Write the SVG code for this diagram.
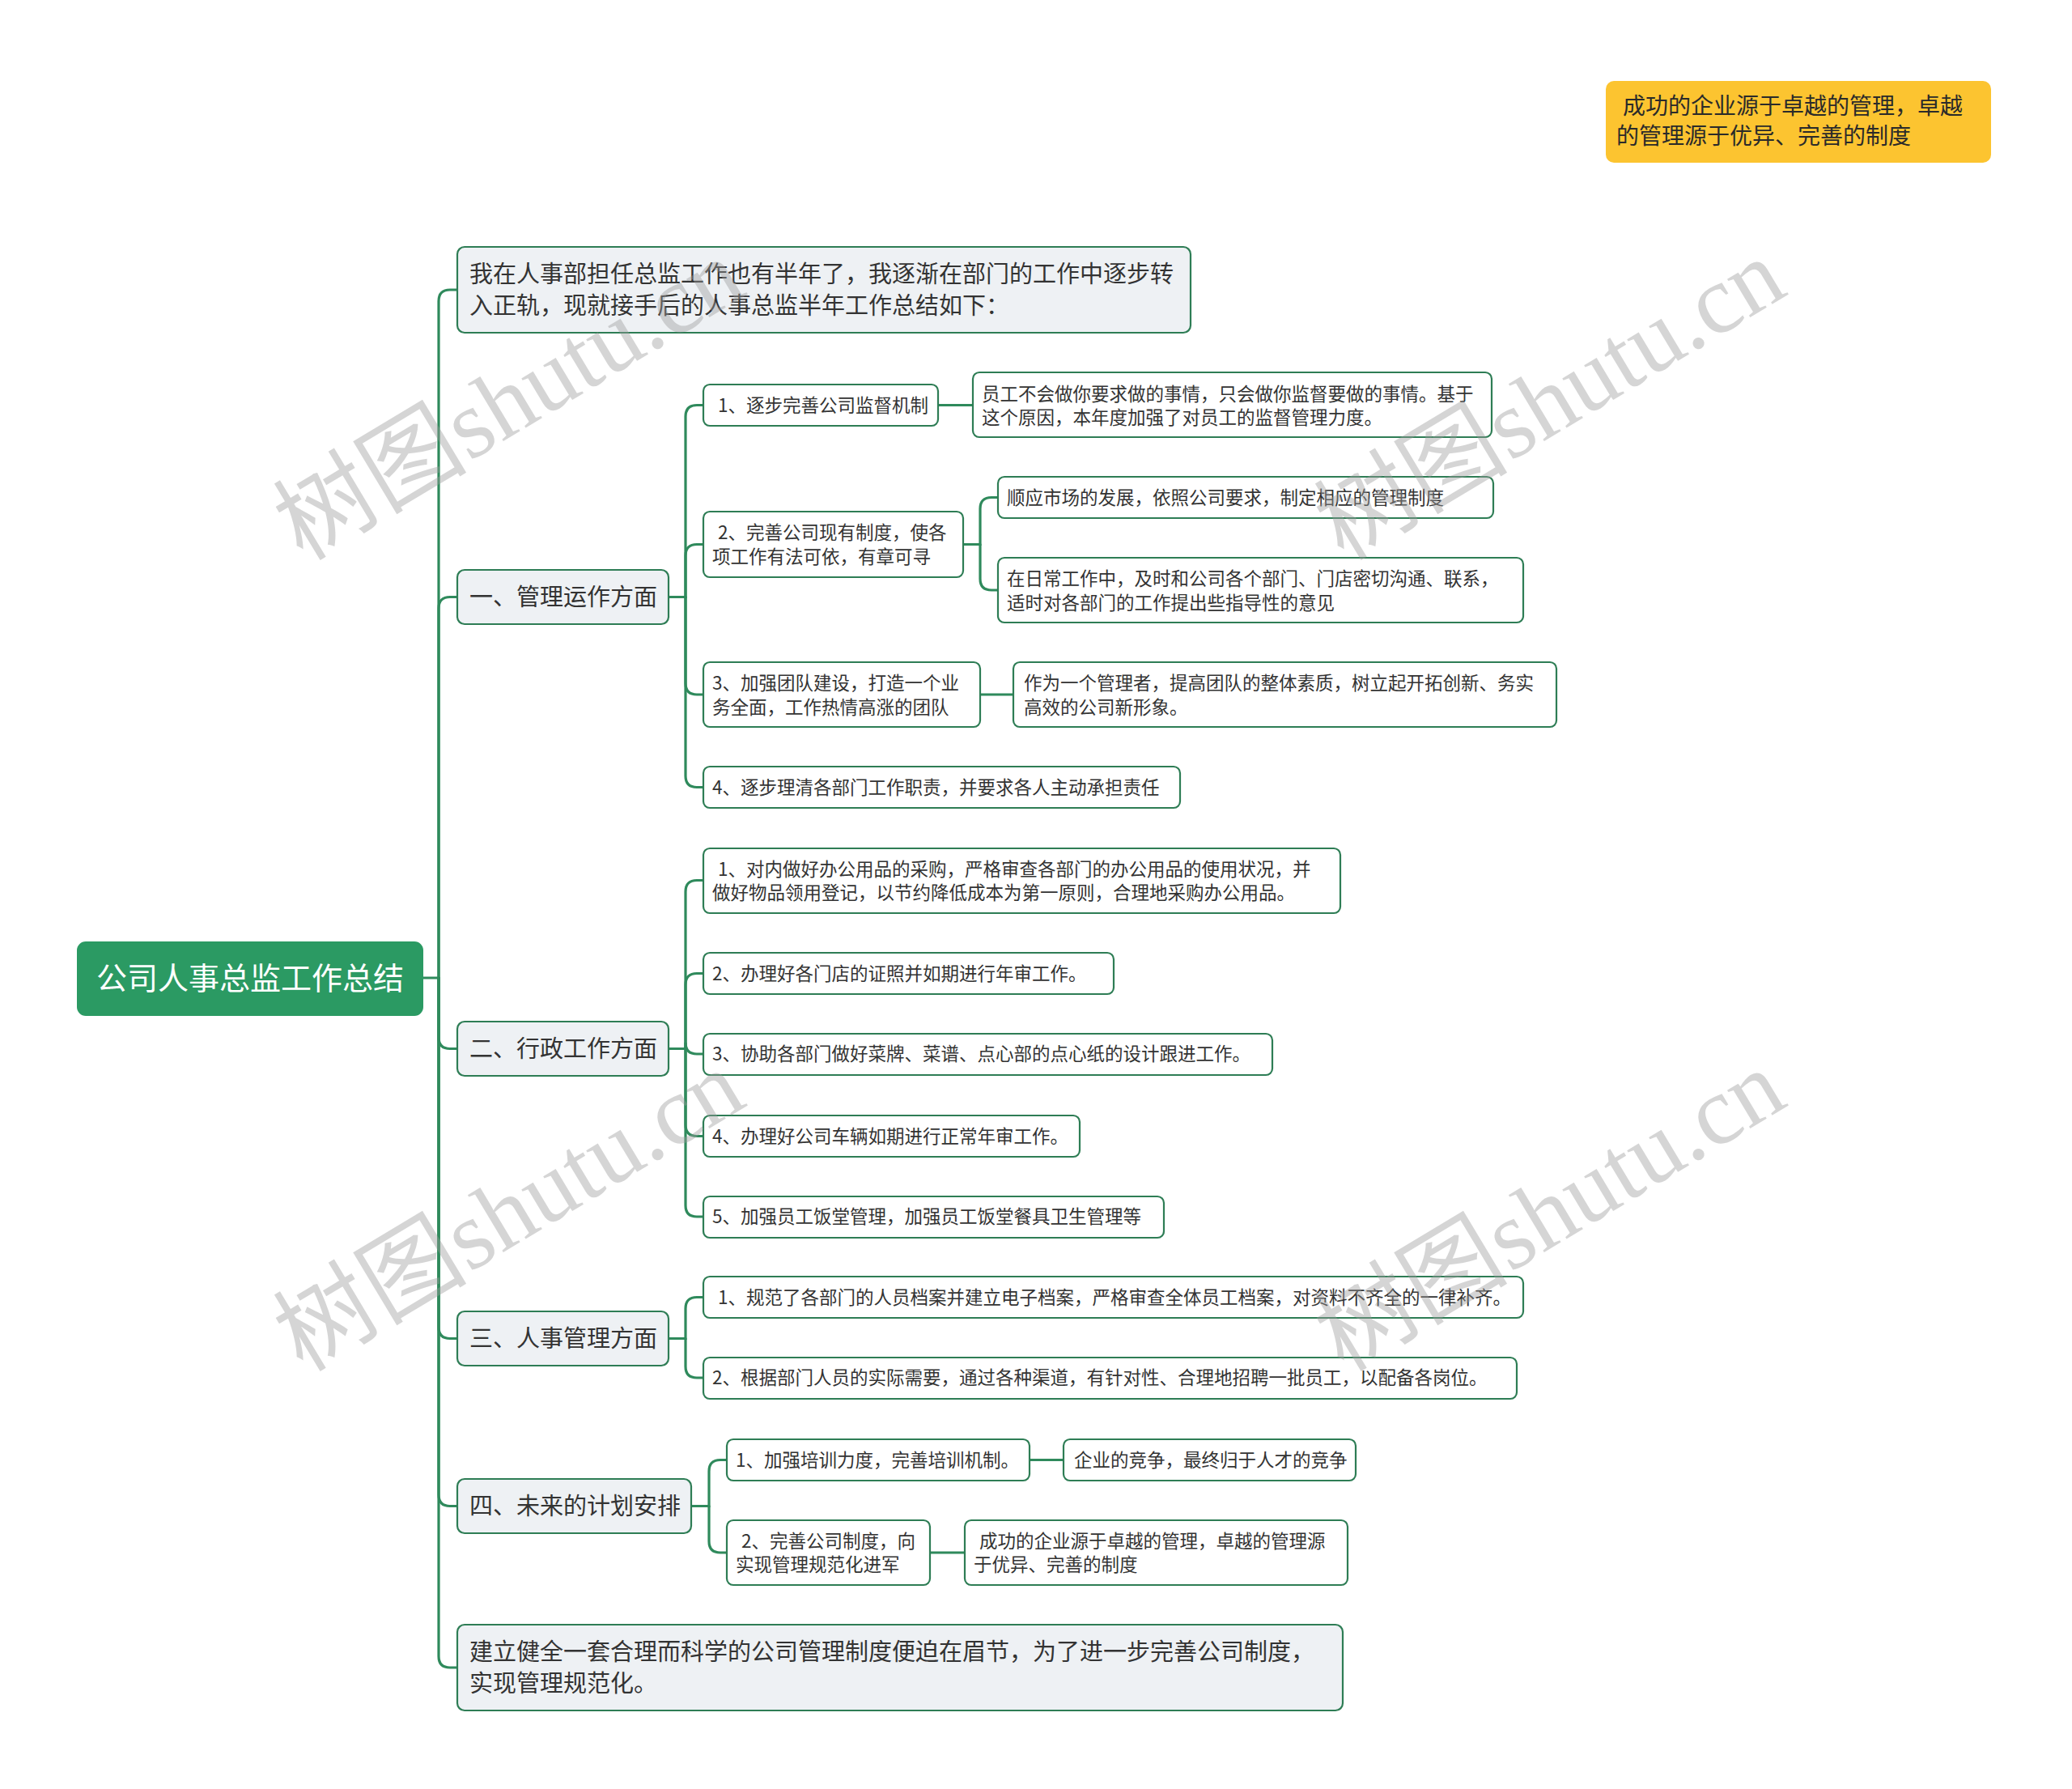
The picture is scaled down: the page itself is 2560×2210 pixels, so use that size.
<svg xmlns="http://www.w3.org/2000/svg" width="2560" height="2210" viewBox="0 0 2560 2210">
<style>
.t{font-family:"Noto Sans CJK SC","Microsoft YaHei",sans-serif;fill:#333333}
.root rect{fill:#2b9a63;stroke:#2b9a63;stroke-width:2}
.root text{fill:#ffffff;font-size:38px}
.l1 rect{fill:#eef1f4;stroke:#2e7d55;stroke-width:2.2}
.l1 text{font-size:29px}
.l2 rect{fill:#ffffff;stroke:#2e7d55;stroke-width:2.2}
.l2 text{font-size:22.5px}
.note rect{fill:#fcc430}
.note text{font-size:28px;fill:#2a2a2a}
.conn path{fill:none;stroke:#2f8a5c;stroke-width:3.2;stroke-linecap:round}
.wm{font-family:"Liberation Serif","Noto Sans CJK SC",serif;font-size:120px;fill:#9a9a9a;fill-opacity:0.42}
</style>
<rect x="0" y="0" width="2560" height="2210" fill="#ffffff"/>

<g class="conn">
  <!-- root to level 1 -->
  <path d="M522 1208 H542 V372 Q542 358 556 358 H565"/>
  <path d="M542 1208 V751.5 Q542 737.5 556 737.5 H565"/>
  <path d="M542 1208 V1281.5 Q542 1295.5 556 1295.5 H565"/>
  <path d="M542 1208 V1639.5 Q542 1653.5 556 1653.5 H565"/>
  <path d="M542 1208 V1846.5 Q542 1860.5 556 1860.5 H565"/>
  <path d="M542 1208 V2046 Q542 2060 556 2060 H565"/>
  <!-- 一 -->
  <path d="M826 737.5 H847 V514.5 Q847 500.5 861 500.5 H869"/>
  <path d="M847 737.5 V686.5 Q847 672.5 861 672.5 H869"/>
  <path d="M847 737.5 V844 Q847 858 861 858 H869"/>
  <path d="M847 737.5 V958.5 Q847 972.5 861 972.5 H869"/>
  <path d="M1159 500.5 H1202"/>
  <path d="M1190 672.5 H1211 V628.5 Q1211 614.5 1225 614.5 H1233"/>
  <path d="M1211 672.5 V715 Q1211 729 1225 729 H1233"/>
  <path d="M1211 858 H1252"/>
  <!-- 二 -->
  <path d="M826 1295.5 H847 V1101.5 Q847 1087.5 861 1087.5 H869"/>
  <path d="M847 1295.5 V1216.5 Q847 1202.5 861 1202.5 H869"/>
  <path d="M847 1295.5 V1288 Q847 1302 861 1302 H869"/>
  <path d="M847 1295.5 V1389.5 Q847 1403.5 861 1403.5 H869"/>
  <path d="M847 1295.5 V1489 Q847 1503 861 1503 H869"/>
  <!-- 三 -->
  <path d="M826 1653.5 H847 V1616.5 Q847 1602.5 861 1602.5 H869"/>
  <path d="M847 1653.5 V1688 Q847 1702 861 1702 H869"/>
  <!-- 四 -->
  <path d="M854 1860.5 H876 V1817.5 Q876 1803.5 890 1803.5 H898"/>
  <path d="M876 1860.5 V1904 Q876 1918 890 1918 H898"/>
  <path d="M1272 1803.5 H1314"/>
  <path d="M1149 1918 H1192"/>
</g>

<g id="root" class="root">
  <rect x="96" y="1164" width="426" height="90" rx="10"/>
  <text class="t" x="309" y="1222" text-anchor="middle">公司人事总监工作总结</text>
</g>

<g id="note" class="note">
  <rect x="1984" y="100" width="476" height="101" rx="10"/>
  <text class="t" x="2005" y="140.5">成功的企业源于卓越的管理，卓越</text>
  <text class="t" x="1997" y="178">的管理源于优异、完善的制度</text>
</g>

<g id="intro" class="l1">
  <rect x="565" y="305" width="906" height="106" rx="9"/>
  <text class="t" x="580" y="348.5">我在人事部担任总监工作也有半年了，我逐渐在部门的工作中逐步转</text>
  <text class="t" x="580" y="387.5">入正轨，现就接手后的人事总监半年工作总结如下：</text>
</g>
<g id="s1" class="l1">
  <rect x="565" y="704" width="261" height="67" rx="9"/>
  <text class="t" x="580" y="747.5">一、管理运作方面</text>
</g>
<g id="s2" class="l1">
  <rect x="565" y="1262" width="261" height="67" rx="9"/>
  <text class="t" x="580" y="1305.5">二、行政工作方面</text>
</g>
<g id="s3" class="l1">
  <rect x="565" y="1620" width="261" height="67" rx="9"/>
  <text class="t" x="580" y="1663.5">三、人事管理方面</text>
</g>
<g id="s4" class="l1">
  <rect x="565" y="1827" width="289" height="67" rx="9"/>
  <text class="t" x="580" y="1870.5">四、未来的计划安排</text>
</g>
<g id="final" class="l1">
  <rect x="565" y="2007" width="1094" height="106" rx="9"/>
  <text class="t" x="580" y="2050.5">建立健全一套合理而科学的公司管理制度便迫在眉节，为了进一步完善公司制度，</text>
  <text class="t" x="580" y="2089.5">实现管理规范化。</text>
</g>

<!-- 一 children -->
<g id="a1" class="l2">
  <rect x="869" y="475" width="290" height="51" rx="8"/>
  <text class="t" x="887" y="508.5">1、逐步完善公司监督机制</text>
</g>
<g id="a1g" class="l2">
  <rect x="1202" y="460" width="641" height="80" rx="8"/>
  <text class="t" x="1213" y="494.5">员工不会做你要求做的事情，只会做你监督要做的事情。基于</text>
  <text class="t" x="1213" y="524">这个原因，本年度加强了对员工的监督管理力度。</text>
</g>
<g id="a2" class="l2">
  <rect x="869" y="632" width="321" height="81" rx="8"/>
  <text class="t" x="887" y="666">2、完善公司现有制度，使各</text>
  <text class="t" x="880" y="695.5">项工作有法可依，有章可寻</text>
</g>
<g id="a2g1" class="l2">
  <rect x="1233" y="589" width="612" height="51" rx="8"/>
  <text class="t" x="1244" y="622.5">顺应市场的发展，依照公司要求，制定相应的管理制度</text>
</g>
<g id="a2g2" class="l2">
  <rect x="1233" y="689" width="649" height="80" rx="8"/>
  <text class="t" x="1244" y="723">在日常工作中，及时和公司各个部门、门店密切沟通、联系，</text>
  <text class="t" x="1244" y="752.5">适时对各部门的工作提出些指导性的意见</text>
</g>
<g id="a3" class="l2">
  <rect x="869" y="818" width="342" height="80" rx="8"/>
  <text class="t" x="880" y="852">3、加强团队建设，打造一个业</text>
  <text class="t" x="880" y="881.5">务全面，工作热情高涨的团队</text>
</g>
<g id="a3g" class="l2">
  <rect x="1252" y="818" width="671" height="80" rx="8"/>
  <text class="t" x="1265" y="852">作为一个管理者，提高团队的整体素质，树立起开拓创新、务实</text>
  <text class="t" x="1265" y="881.5">高效的公司新形象。</text>
</g>
<g id="a4" class="l2">
  <rect x="869" y="947" width="589" height="51" rx="8"/>
  <text class="t" x="880" y="980.5">4、逐步理清各部门工作职责，并要求各人主动承担责任</text>
</g>

<!-- 二 children -->
<g id="b1" class="l2">
  <rect x="869" y="1048" width="787" height="80" rx="8"/>
  <text class="t" x="887" y="1081.5">1、对内做好办公用品的采购，严格审查各部门的办公用品的使用状况，并</text>
  <text class="t" x="880" y="1111">做好物品领用登记，以节约降低成本为第一原则，合理地采购办公用品。</text>
</g>
<g id="b2" class="l2">
  <rect x="869" y="1177" width="507" height="51" rx="8"/>
  <text class="t" x="880" y="1210.5">2、办理好各门店的证照并如期进行年审工作。</text>
</g>
<g id="b3" class="l2">
  <rect x="869" y="1277" width="703" height="51" rx="8"/>
  <text class="t" x="880" y="1310">3、协助各部门做好菜牌、菜谱、点心部的点心纸的设计跟进工作。</text>
</g>
<g id="b4" class="l2">
  <rect x="869" y="1378" width="465" height="51" rx="8"/>
  <text class="t" x="880" y="1411.5">4、办理好公司车辆如期进行正常年审工作。</text>
</g>
<g id="b5" class="l2">
  <rect x="869" y="1478" width="569" height="51" rx="8"/>
  <text class="t" x="880" y="1511">5、加强员工饭堂管理，加强员工饭堂餐具卫生管理等</text>
</g>

<!-- 三 children -->
<g id="c1" class="l2">
  <rect x="869" y="1577" width="1013" height="51" rx="8"/>
  <text class="t" x="887" y="1610.5">1、规范了各部门的人员档案并建立电子档案，严格审查全体员工档案，对资料不齐全的一律补齐。</text>
</g>
<g id="c2" class="l2">
  <rect x="869" y="1677" width="1005" height="51" rx="8"/>
  <text class="t" x="880" y="1710">2、根据部门人员的实际需要，通过各种渠道，有针对性、合理地招聘一批员工，以配备各岗位。</text>
</g>

<!-- 四 children -->
<g id="d1" class="l2">
  <rect x="898" y="1778" width="374" height="51" rx="8"/>
  <text class="t" x="909" y="1811.5">1、加强培训力度，完善培训机制。</text>
</g>
<g id="d1g" class="l2">
  <rect x="1314" y="1778" width="361" height="51" rx="8"/>
  <text class="t" x="1327" y="1811.5">企业的竞争，最终归于人才的竞争</text>
</g>
<g id="d2" class="l2">
  <rect x="898" y="1878" width="251" height="80" rx="8"/>
  <text class="t" x="916" y="1911.5">2、完善公司制度，向</text>
  <text class="t" x="909" y="1941">实现管理规范化进军</text>
</g>
<g id="d2g" class="l2">
  <rect x="1192" y="1878" width="473" height="80" rx="8"/>
  <text class="t" x="1210" y="1911.5">成功的企业源于卓越的管理，卓越的管理源</text>
  <text class="t" x="1203" y="1941">于优异、完善的制度</text>
</g>

<g id="watermarks">
  <text class="wm" transform="translate(374 694) rotate(-31)">树图shutu.cn</text>
  <text class="wm" transform="translate(1660 694) rotate(-31)">树图shutu.cn</text>
  <text class="wm" transform="translate(374 1696) rotate(-31)">树图shutu.cn</text>
  <text class="wm" transform="translate(1660 1696) rotate(-31)">树图shutu.cn</text>
</g>
</svg>
